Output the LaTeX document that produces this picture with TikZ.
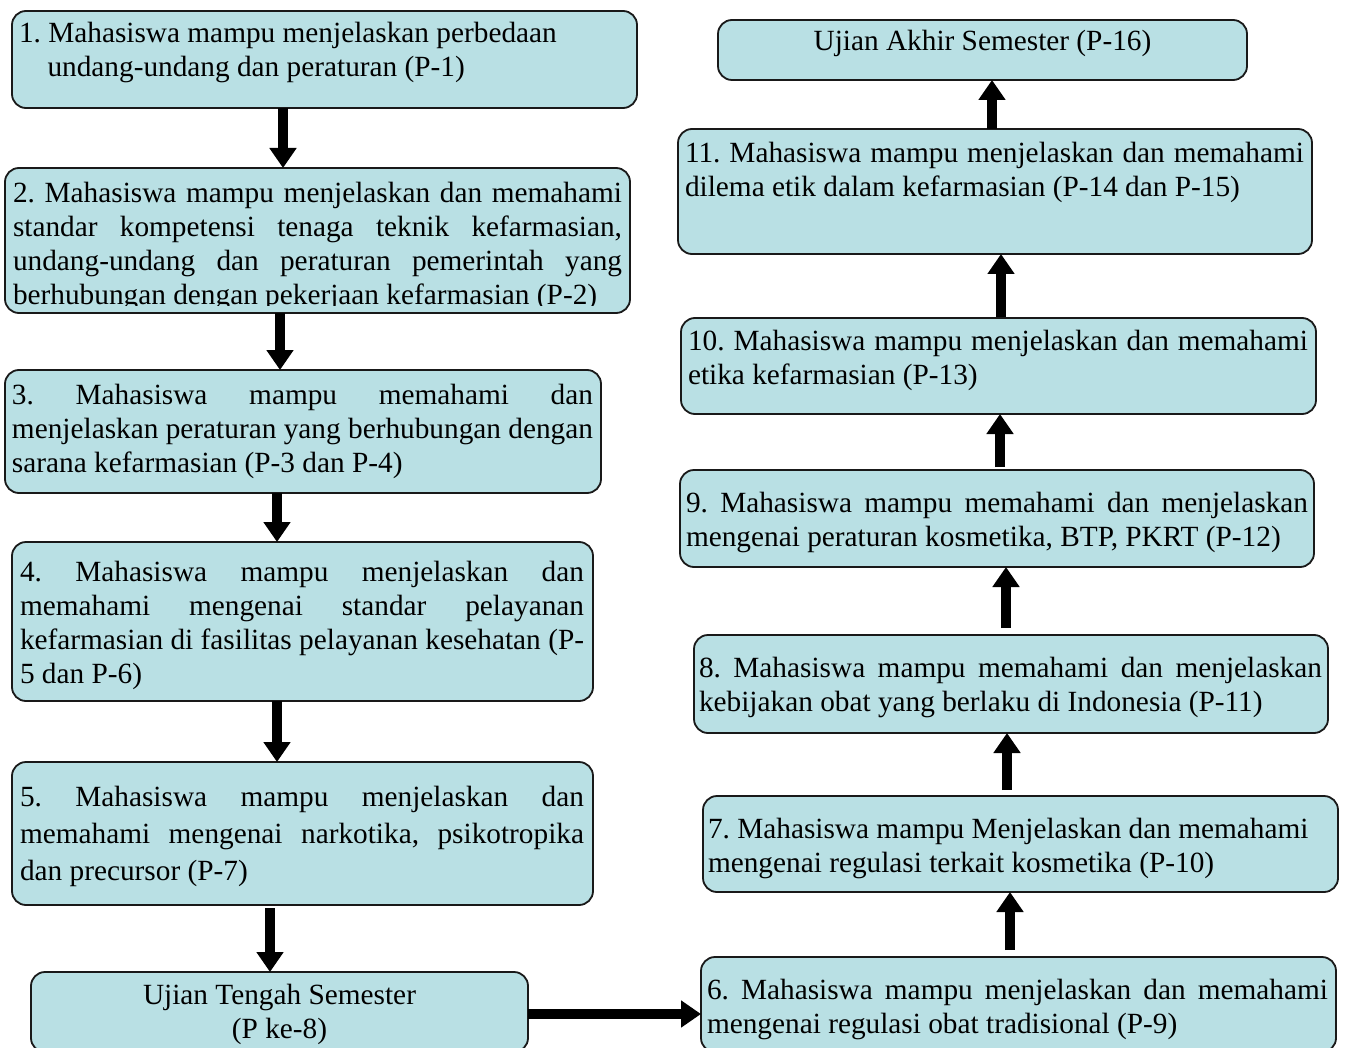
\documentclass[tikz,border=0pt]{standalone}
\usepackage{fontspec}
\setmainfont{Liberation Serif}
\usetikzlibrary{arrows.meta,calc}
\definecolor{boxfill}{RGB}{185,224,228}
\newcommand{\ns}{\spaceskip=0pt\relax\xspaceskip=0pt\relax}
\newcommand{\jl}[1]{\makebox[\hsize][s]{\ns #1}}
\newcommand{\cl}[1]{\makebox[\hsize][c]{\ns #1}}
\frenchspacing
\begin{document}
\begin{tikzpicture}[x=1pt,y=-1pt,
  box/.style={draw=black!90, line width=1.8pt, fill=boxfill, rounded corners=14pt,
    inner sep=0pt, outer sep=0pt, anchor=north west},
  txt/.style={inner sep=0pt, outer sep=0pt, anchor=base west, align=left,
    font=\fontsize{29.3}{34}\selectfont\frenchspacing},
  arr/.style={line width=10pt, -{Triangle[width=26pt,length=20pt]}},
]
\useasboundingbox[fill=white] (0,0) rectangle (1348,1048);

% ---------- left column ----------
\node[box, minimum width=625pt, minimum height=97pt] (b1) at (12,11) {};
\node[txt, text width=610pt] (t1) at (19,43)
  {\ns 1. Mahasiswa mampu menjelaskan perbedaan\\\hspace*{28.5pt}undang-undang dan peraturan (P-1)};

\node[box, minimum width=625pt, minimum height=145pt] (b2) at (5,168) {};
\begin{scope}
\clip (5,168) rectangle (630,306);
\node[txt, text width=609pt] (t2) at (13,203)
  {\ns\jl{2. Mahasiswa mampu menjelaskan dan memahami}\\
   \jl{standar kompetensi tenaga teknik kefarmasian,}\\
   \jl{undang-undang dan peraturan pemerintah yang}\\
   berhubungan dengan pekerjaan kefarmasian (P-2)};
\end{scope}

\node[box, minimum width=596pt, minimum height=123pt] (b3) at (5,370) {};
\node[txt, text width=581pt] (t3) at (12,404)
  {\ns\jl{3. Mahasiswa mampu memahami dan}\\
   \jl{menjelaskan peraturan yang berhubungan dengan}\\
   sarana kefarmasian (P-3 dan P-4)};

\node[box, minimum width=581pt, minimum height=159pt] (b4) at (12,542) {};
\node[txt, text width=564pt] (t4) at (20,581)
  {\ns\jl{4. Mahasiswa mampu menjelaskan dan}\\
   \jl{memahami mengenai standar pelayanan}\\
   \jl{kefarmasian di fasilitas pelayanan kesehatan (P-}\\
   5 dan P-6)};

\node[box, minimum width=581pt, minimum height=143pt] (b5) at (12,762) {};
\node[txt, text width=564pt, font=\fontsize{29.3}{37}\selectfont\frenchspacing] (t5) at (20,806)
  {\ns\jl{5. Mahasiswa mampu menjelaskan dan}\\
   \jl{memahami mengenai narkotika, psikotropika}\\
   dan precursor (P-7)};

\node[box, minimum width=497pt, minimum height=80pt] (uts) at (31,972) {};
\node[txt, text width=497pt] (tuts) at (31,1004)
  {\cl{Ujian Tengah Semester}\\\cl{(P ke-8)}};

% ---------- right column ----------
\node[box, minimum width=529pt, minimum height=60pt] (uas) at (718,20) {};
\node[txt, text width=529pt] (tuas) at (718,51)
  {\cl{Ujian Akhir Semester (P-16)}};

\node[box, minimum width=634pt, minimum height=125pt] (b11) at (678,129) {};
\node[txt, text width=619pt] (t11) at (685,163)
  {\ns\jl{11. Mahasiswa mampu menjelaskan dan memahami}\\
   dilema etik dalam kefarmasian (P-14 dan P-15)};

\node[box, minimum width=635pt, minimum height=96pt] (b10) at (681,318) {};
\node[txt, text width=620pt] (t10) at (688,350)
  {\ns\jl{10. Mahasiswa mampu menjelaskan dan memahami}\\
   etika kefarmasian (P-13)};

\node[box, minimum width=634pt, minimum height=97pt] (b9) at (680,470) {};
\node[txt, text width=622pt] (t9) at (686,512)
  {\ns\jl{9. Mahasiswa mampu memahami dan menjelaskan}\\
   mengenai peraturan kosmetika, BTP, PKRT (P-12)};

\node[box, minimum width=634pt, minimum height=98pt] (b8) at (694,635) {};
\node[txt, text width=623pt] (t8) at (699,677)
  {\ns\jl{8. Mahasiswa mampu memahami dan menjelaskan}\\
   kebijakan obat yang berlaku di Indonesia (P-11)};

\node[box, minimum width=635pt, minimum height=96pt] (b7) at (703,796) {};
\node[txt, text width=622pt] (t7) at (708,838)
  {\ns 7. Mahasiswa mampu Menjelaskan dan memahami\\
   mengenai regulasi terkait kosmetika (P-10)};

\node[box, minimum width=635pt, minimum height=95pt] (b6) at (701,957) {};
\node[txt, text width=621pt] (t6) at (707,999)
  {\ns\jl{6. Mahasiswa mampu menjelaskan dan memahami}\\
   mengenai regulasi obat tradisional (P-9)};

% ---------- connectors ----------
\draw[arr] ($(b1.south west)+(271,0)$) -- ($(b2.north west)+(278,0)$);
\draw[arr] ($(b2.south west)+(275,0)$) -- ($(b3.north west)+(275,0)$);
\draw[arr] ($(b3.south west)+(272,0)$) -- ($(b4.north west)+(265,0)$);
\draw[arr] ($(b4.south west)+(265,0)$) -- ($(b5.north west)+(265,0)$);
\draw[arr] ($(b5.south west)+(258,3)$) -- ($(uts.north west)+(239,0)$);
\draw[arr] ($(uts.north east)+(0,42)$) -- ($(b6.north west)+(0,57)$);
\draw[arr] ($(b6.north west)+(309,-7)$) -- ($(b7.south west)+(307,0)$);
\draw[arr] ($(b7.north west)+(304,-6)$) -- ($(b8.south west)+(313,0)$);
\draw[arr] ($(b8.north west)+(312,-7)$) -- ($(b9.south west)+(326,0)$);
\draw[arr] ($(b9.north west)+(320,-3)$) -- ($(b10.south west)+(319,0)$);
\draw[arr] ($(b10.north west)+(320,-1)$) -- ($(b11.south west)+(323,0)$);
\draw[arr] ($(b11.north west)+(314,0)$) -- ($(uas.south west)+(274,0)$);
\end{tikzpicture}
\end{document}
